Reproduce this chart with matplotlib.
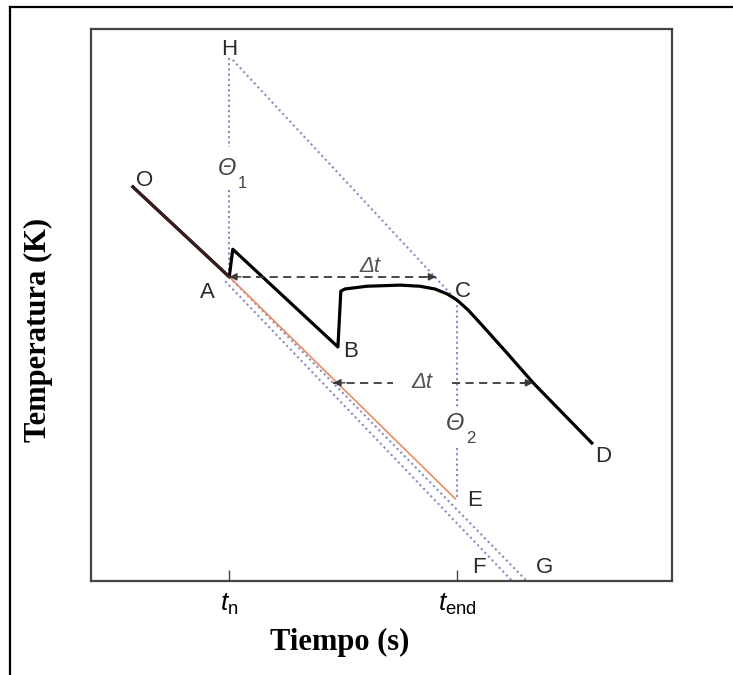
import matplotlib.pyplot as plt
from matplotlib.lines import Line2D

# schematic cooling curve, axes scaled 0-100 (time, temperature)
curve_t = [7.2, 23.8, 24.4, 42.5, 43.0, 43.7, 47.5, 53.2, 56.6, 59.2, 61.3,
           63.0, 64.9, 67.0, 71.6, 76.1, 86.2]
curve_T = [71.4, 55.1, 60.1, 42.4, 52.5, 52.9, 53.4, 53.6, 53.4, 52.9, 52.0,
           50.9, 49.1, 46.7, 41.3, 35.9, 25.0]

# undisturbed cooling A -> E (orange)
cool_t = [23.8, 62.7]
cool_T = [55.1, 14.9]

# dotted guide lines
line_AF_t = [23.1, 72.5]
line_AF_T = [54.3, 0.0]
line_AG_t = [23.8, 75.0]
line_AG_T = [55.1, 0.0]
line_HC_t = [24.4, 62.8]
line_HC_T = [94.4, 51.0]

t_n = 23.8
t_end = 63.0
H_T = 94.7
A_T = 55.1
C_T = 50.9
E_T = 14.9
theta1_gap = [78.6, 70.8]
theta2_gap = [31.5, 24.1]

# delta t arrows
dt1_T = 55.1
dt1_t = [23.8, 59.4]
dt2_T = 35.9
dt2_t = [41.7, 76.1]
dt2_gap = [52.0, 62.1]

tick_pos = [t_n, t_end]
tick_labels = [r'$t_{\mathrm{n}}$', r'$t_{\mathrm{end}}$']

point_labels = ['H', 'O', 'A', 'B', 'C', 'D', 'E', 'F', 'G']
point_t = [23.8, 9.3, 20.1, 44.6, 64.0, 88.1, 66.1, 66.8, 78.1]
point_T = [96.2, 72.6, 52.2, 41.5, 52.4, 22.5, 14.5, 2.4, 2.4]

plt.rcParams['mathtext.fontset'] = 'custom'
plt.rcParams['mathtext.it'] = 'Liberation Sans:italic'
plt.rcParams['mathtext.rm'] = 'Liberation Sans'
plt.rcParams['font.family'] = 'Liberation Sans'

fig = plt.figure(figsize=(7.33, 6.75), dpi=100)
ax = fig.add_axes([91 / 733, 94 / 675, 581 / 733, 552 / 675])
ax.set_xlim(0, 100)
ax.set_ylim(0, 100)

# outer frame (left and top edges only)
fig.add_artist(Line2D([0.0136, 0.0136], [0, 0.9896], transform=fig.transFigure,
                      color='black', lw=1.6))
fig.add_artist(Line2D([0.0136, 1.0], [0.9896, 0.9896], transform=fig.transFigure,
                      color='black', lw=1.6))

dot = dict(color='#878bc4', lw=1.5, linestyle=(0, (1, 1.5)))

# vertical guides with gaps for the theta labels
ax.plot([t_n, t_n], [H_T, theta1_gap[0]], **dot)
ax.plot([t_n, t_n], [theta1_gap[1], A_T], **dot)
ax.plot([t_end, t_end], [C_T, theta2_gap[0]], **dot)
ax.plot([t_end, t_end], [theta2_gap[1], E_T], **dot)
ax.plot(line_HC_t, line_HC_T, **dot)
ax.plot(line_AF_t, line_AF_T, **dot)
ax.plot(line_AG_t, line_AG_T, **dot)

ax.plot(cool_t, cool_T, color='#ec8a62', lw=1.2)
ax.plot(curve_t, curve_T, color='black', lw=2.3, solid_joinstyle='round')
ax.plot(curve_t[:2], curve_T[:2], color='#3a1e1e', lw=2.1)

# dashed delta-t arrows
dash = dict(color='#3a3a3a', lw=1.3, linestyle=(0, (4.5, 3)))
head = dict(arrowstyle='-|>', color='#3a3a3a', lw=1, mutation_scale=11,
            shrinkA=0, shrinkB=0)
ax.plot(dt1_t, [dt1_T, dt1_T], **dash)
ax.annotate('', xy=(dt1_t[0], dt1_T), xytext=(dt1_t[0] + 2, dt1_T), arrowprops=head)
ax.annotate('', xy=(dt1_t[1], dt1_T), xytext=(dt1_t[1] - 2, dt1_T), arrowprops=head)
ax.plot([dt2_t[0], dt2_gap[0]], [dt2_T, dt2_T], **dash)
ax.plot([dt2_gap[1], dt2_t[1]], [dt2_T, dt2_T], **dash)
ax.annotate('', xy=(dt2_t[0], dt2_T), xytext=(dt2_t[0] + 2, dt2_T), arrowprops=head)
ax.annotate('', xy=(dt2_t[1], dt2_T), xytext=(dt2_t[1] - 2, dt2_T), arrowprops=head)

ax.text(48.0, 57.0, 'Δt', fontsize=16, fontstyle='italic', color='#555555',
        ha='center', va='center')
ax.text(57.0, 36.0, 'Δt', fontsize=16, fontstyle='italic', color='#555555',
        ha='center', va='center')

# theta labels
ax.text(23.4, 74.8, 'Θ', fontsize=17, fontstyle='italic', color='#444444',
        ha='center', va='center')
ax.text(26.0, 72.0, '1', fontsize=12, color='#444444', ha='center', va='center')
ax.text(62.6, 28.6, 'Θ', fontsize=17, fontstyle='italic', color='#444444',
        ha='center', va='center')
ax.text(65.3, 25.8, '2', fontsize=12, color='#444444', ha='center', va='center')

for lab, x, y in zip(point_labels, point_t, point_T):
    ax.text(x, y, lab, fontsize=16, color='#2a2a2a', ha='center', va='center')

ax.set_xticks(tick_pos)
ax.set_xticklabels(tick_labels, fontsize=19)
ax.set_yticks([])
ax.tick_params(axis='x', direction='in', length=8, width=1, pad=8,
               color='#444444')
for s in ax.spines.values():
    s.set_color('#444444')
    s.set_linewidth(1.6)

fig.text(340 / 733, 1 - 642 / 675, 'Tiempo (s)', fontfamily='Liberation Serif',
         fontweight='bold', fontsize=22, ha='center', va='center')
fig.text(38 / 733, 1 - 330 / 675, 'Temperatura (K)', fontfamily='Liberation Serif',
         fontweight='bold', fontsize=22, rotation=90, ha='center', va='center')

fig.savefig('out.png', dpi=100, facecolor='white')
